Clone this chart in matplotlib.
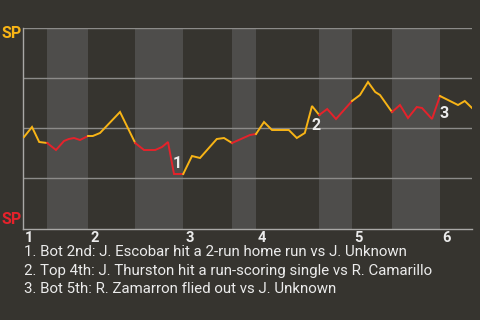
import matplotlib
matplotlib.use("Agg")
import matplotlib.pyplot as plt

# win probability path (x = play index, y = probability for the top team)
play_x = [0, 1, 1.9, 2.9, 4, 5, 5.6, 6.25, 7, 8, 8.6, 9.5, 12, 13.9,
          15, 16.4, 17.25, 18, 18.75, 19.9, 21, 22, 24.1, 25, 26, 28.25,
          29, 30, 31, 33.1, 34.1, 35.1, 36, 36.9, 37.9, 39, 41, 42, 43,
          43.9, 44.5, 46, 47, 48, 49.1, 49.75, 51, 52, 53, 54.25, 55.1, 56]
win_prob = [0.455, 0.505, 0.43, 0.425, 0.39, 0.435, 0.445, 0.45, 0.44,
            0.46, 0.46, 0.475, 0.58, 0.425, 0.39, 0.39, 0.405, 0.43,
            0.27, 0.27, 0.36, 0.35, 0.445, 0.45, 0.425, 0.465, 0.47,
            0.53, 0.49, 0.49, 0.45, 0.475, 0.61, 0.565, 0.595, 0.545,
            0.635, 0.665, 0.73, 0.68, 0.665, 0.58, 0.615, 0.55, 0.605,
            0.6, 0.545, 0.66, 0.64, 0.615, 0.635, 0.6]

# half-inning boundaries (play index) and which side is batting
half_bounds = [-0.125, 2.9, 8, 13.9, 19.9, 26, 29, 36.9, 41, 46, 52, 56]
half_side = ["top", "bot", "top", "bot", "top", "bot", "top", "bot", "top", "bot", "top"]
inning_labels = ["1", "2", "3", "4", "5", "6"]

events = ["1. Bot 2nd: J. Escobar hit a 2-run home run vs J. Unknown",
          "2. Top 4th: J. Thurston hit a run-scoring single vs R. Camarillo",
          "3. Bot 5th: R. Zamarron flied out vs J. Unknown"]
event_x = [18.6, 35.9, 51.9]
event_y = [0.32, 0.51, 0.57]

BG = "#36342f"
BAND = "#4e4d4b"
YEL = "#f8b416"
RED = "#e5222b"
GRID = "#8c8b89"
TXT = "#ebebeb"

plt.rcParams['font.family'] = ['Roboto', 'DejaVu Sans']

fig = plt.figure(figsize=(4.8, 3.2), dpi=100, facecolor=BG)
ax = fig.add_axes([23/480, 91/320, 449/480, 201/320], facecolor=BG)
ax.set_xlim(-0.125, 56)
ax.set_ylim(-0.005, 1.0)

for i, side in enumerate(half_side):
    if side == "bot":
        ax.axvspan(half_bounds[i], half_bounds[i+1], color=BAND, lw=0, zorder=0)

for gy in [0.25, 0.5, 0.75, 1.0]:
    ax.axhline(gy, color=GRID, lw=1, zorder=1)

# colour each half inning
for i, side in enumerate(half_side):
    lo, hi = half_bounds[i], half_bounds[i+1]
    xs = [x for x in play_x if lo - 1e-6 <= x <= hi + 1e-6]
    ys = [y for x, y in zip(play_x, win_prob) if lo - 1e-6 <= x <= hi + 1e-6]
    ax.plot(xs, ys, color=YEL if side == "top" else RED, lw=1.4,
            solid_joinstyle="miter", zorder=3)

for k, (ex, ey) in enumerate(zip(event_x, event_y)):
    ax.text(ex, ey, str(k + 1), color=TXT, fontsize=11.5, fontweight="bold",
            ha="left", va="center", zorder=4)

for s in ["top", "right"]:
    ax.spines[s].set_visible(False)
for s in ["left", "bottom"]:
    ax.spines[s].set_color("#a9a8a6")
    ax.spines[s].set_linewidth(1)
ax.set_xticks([])
ax.set_yticks([])

# inning numbers at start of each top half
tops = [half_bounds[i] for i, s in enumerate(half_side) if s == "top"]
for x0, lab in zip(tops, inning_labels):
    ax.annotate(lab, (x0, 0), xytext=(1.5, -2.5), textcoords="offset points",
                color=TXT, fontsize=10.5, fontweight="bold", ha="left", va="top",
                annotation_clip=False)

fig.text(2/480, 1 - 33/320, "SP", color=YEL, fontsize=11.5, fontweight="bold",
         ha="left", va="center")
fig.text(2/480, 1 - 219/320, "SP", color=RED, fontsize=11.5, fontweight="bold",
         ha="left", va="center")

for j, line in enumerate(events):
    fig.text(24/480, 1 - (252 + 18.5*j)/320, line, color=TXT, fontsize=10.8,
             ha="left", va="center")

fig.savefig("out.png", dpi=100, facecolor=BG)
